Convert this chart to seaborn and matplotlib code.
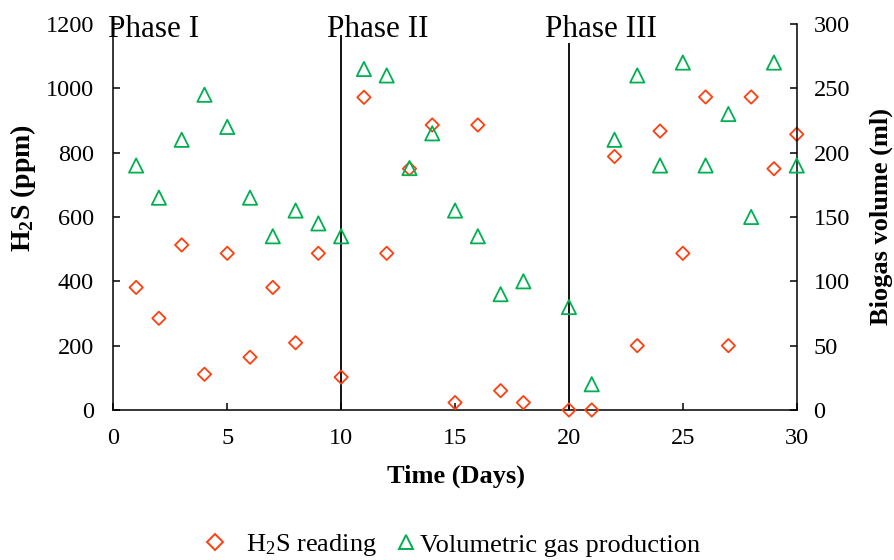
import matplotlib
matplotlib.use("Agg")
import matplotlib.pyplot as plt
from matplotlib.lines import Line2D
import seaborn as sns
import pandas as pd

# ---- data ----
h2s_days = [1, 2, 3, 4, 5, 6, 7, 8, 9, 10, 11, 12, 13, 14, 15, 16, 17, 18, 20,
            21, 22, 23, 24, 25, 26, 27, 28, 29, 30]
h2s_ppm = [381, 285, 513, 111, 487, 164, 381, 209, 487, 102, 972, 487, 750, 886,
           23, 886, 60, 23, 0, 0, 788, 200, 867, 487, 973, 200, 973, 750, 857]
gas_days = [1, 2, 3, 4, 5, 6, 7, 8, 9, 10, 11, 12, 13, 14, 15, 16, 17, 18, 20,
            21, 22, 23, 24, 25, 26, 27, 28, 29, 30]
gas_ml = [190, 165, 210, 245, 220, 165, 135, 155, 145, 135, 265, 260, 188, 215,
          155, 135, 90, 100, 80, 20, 210, 260, 190, 270, 190, 230, 150, 270, 190]
phase_labels = ["Phase I", "Phase II", "Phase III"]
phase_label_x = [-0.25, 9.38, 18.95]
phase_boundaries = [10, 20]
phase_line_tops = [1165, 1140]
x_ticks = [0, 5, 10, 15, 20, 25, 30]
left_ticks = [0, 200, 400, 600, 800, 1000, 1200]
right_ticks = [0, 50, 100, 150, 200, 250, 300]

h2s_df = pd.DataFrame({"day": h2s_days, "ppm": h2s_ppm})
gas_df = pd.DataFrame({"day": gas_days, "ml": gas_ml})

sns.set_theme(style="white")
plt.rcParams["font.family"] = ["Liberation Serif", "DejaVu Serif"]
plt.rcParams["mathtext.fontset"] = "custom"
plt.rcParams["mathtext.rm"] = "Liberation Serif"
plt.rcParams["mathtext.it"] = "Liberation Serif:italic"
plt.rcParams["mathtext.bf"] = "Liberation Serif:bold"
plt.rcParams["text.color"] = "black"
plt.rcParams["axes.labelcolor"] = "black"
plt.rcParams["xtick.color"] = "black"
plt.rcParams["ytick.color"] = "black"

RED = "#FF3F0F"
GREEN = "#00B050"
TICK_FS = 17.5
LABEL_FS = 19
LEG_FS = 19

fig = plt.figure(figsize=(8.94, 5.6), dpi=100)
ax = fig.add_axes([0.1268, 0.2679, 0.7644, 0.6893])
ax2 = ax.twinx()

sns.scatterplot(data=h2s_df, x="day", y="ppm", ax=ax, marker="D", s=46,
                facecolor="none", edgecolor=RED, linewidth=1.3, clip_on=False,
                zorder=5, legend=False)
sns.scatterplot(data=gas_df, x="day", y="ml", ax=ax2, marker="^", s=105,
                facecolor="none", edgecolor=GREEN, linewidth=1.3, clip_on=False,
                zorder=5, legend=False)

ax.set_xlim(0, 30)
ax.set_ylim(0, 1200)
ax2.set_ylim(0, 300)
ax.set_xticks(x_ticks)
ax.set_yticks(left_ticks)
ax2.set_yticks(right_ticks)

for a in (ax, ax2):
    for s in a.spines.values():
        s.set_linewidth(1.1)
        s.set_color("black")
ax.spines["top"].set_visible(False)
ax.spines["right"].set_visible(False)
ax2.spines["top"].set_visible(False)
ax2.spines["left"].set_visible(False)
ax2.spines["bottom"].set_visible(False)

ax.tick_params(axis="both", direction="in", length=5, width=1.1, colors="black",
               labelsize=TICK_FS)
ax.tick_params(axis="y", pad=14, left=True)
ax.tick_params(axis="x", pad=13, bottom=True)
ax2.tick_params(axis="y", direction="in", length=5, width=1.1, colors="black",
                labelsize=TICK_FS, pad=12, right=True)
ax.grid(False)
ax2.grid(False)

ax.vlines(phase_boundaries, 0, phase_line_tops, colors="black", linewidth=1.3,
          zorder=3)

for lbl, xp in zip(phase_labels, phase_label_x):
    ax.text(xp, 1160, lbl, fontsize=22.5, ha="left", va="baseline",
            color="black", zorder=6, clip_on=False)

ax.set_xlabel("Time (Days)", fontsize=LABEL_FS, fontweight="bold", color="black")
ax.xaxis.set_label_coords(0.501, -0.142)
ax.set_ylabel(r"H$_\mathbf{2}$S (ppm)", fontsize=20, fontweight="bold",
              color="black")
ax.yaxis.set_label_coords(-0.111, 0.575)
ax2.set_ylabel("Biogas volume (ml)", fontsize=LABEL_FS, fontweight="bold",
               color="black", rotation=90)
ax2.yaxis.set_label_coords(1.106, 0.5)

# legend: two pieces to mimic the original spacing
h_d = Line2D([], [], linestyle="none", marker="D", markersize=8,
             markerfacecolor="none", markeredgecolor=RED, markeredgewidth=1.4)
h_t = Line2D([], [], linestyle="none", marker="^", markersize=10.5,
             markerfacecolor="none", markeredgecolor=GREEN, markeredgewidth=1.4)
leg1 = fig.legend([h_d], [r"H$_2$S reading"], loc="center left",
                  bbox_to_anchor=(201.6 / 894, 0.027), frameon=False,
                  fontsize=LEG_FS, handlelength=1.0, handletextpad=0.69,
                  borderpad=0, borderaxespad=0)
leg2 = fig.legend([h_t], ["Volumetric gas production"], loc="center left",
                  bbox_to_anchor=(398 / 894, 0.027), frameon=False,
                  fontsize=LEG_FS, handlelength=0.6, handletextpad=0.22,
                  borderpad=0, borderaxespad=0)
for lg in (leg1, leg2):
    for t in lg.get_texts():
        t.set_color("black")

fig.savefig("out.png", dpi=100)
